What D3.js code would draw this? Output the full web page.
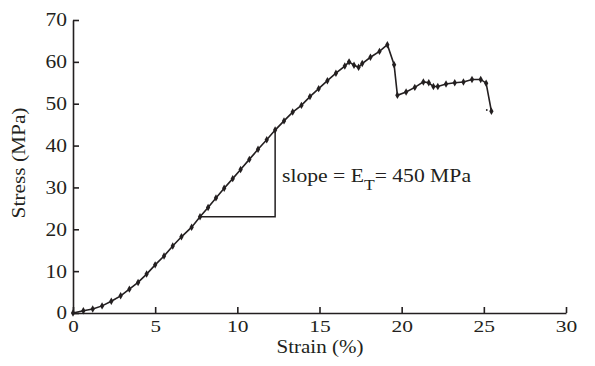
<!DOCTYPE html>
<html><head><meta charset="utf-8">
<script src="https://cdn.jsdelivr.net/npm/d3@7"></script>
<style>body{margin:0;background:#fff}svg{display:block}</style>
</head><body><svg id="c" width="595" height="366"></svg>
<script>
const strain = [0,0.63,1.2,1.77,2.33,2.9,3.43,3.96,4.48,5.0,5.54,6.07,6.6,7.22,7.73,8.22,8.7,9.2,9.72,10.2,10.73,11.26,11.79,12.3,12.84,13.37,13.9,14.42,14.95,15.48,16.0,16.54,16.8,17.1,17.38,17.6,18.1,18.65,19.13,19.54,19.74,20.27,20.8,21.32,21.65,21.93,22.2,22.7,23.23,23.76,24.28,24.81,25.14,25.46];
const stress = [0,0.55,0.95,1.7,2.8,4.1,5.7,7.3,9.3,11.5,13.6,16.0,18.2,20.5,23.0,25.2,27.5,29.8,32.1,34.3,36.7,39.1,41.4,43.7,45.9,48,49.6,51.7,53.6,55.5,57.3,59.0,60.0,59.2,58.7,59.6,61.1,62.5,64.1,59.3,52.0,52.8,53.9,55.2,55.0,54.1,54.1,54.7,55.0,55.2,55.8,55.8,54.9,48.2];
const strayPoint = [25.18, 48.5];
const xTicks = [0,5,10,15,20,25,30];
const yTicks = [0,10,20,30,40,50,60,70];
const slopeStart = [7.73, 23.0];
const slopeEnd = [12.3, 43.7];
const xTitle = "Strain (%)";
const yTitle = "Stress (MPa)";
const slopeParts = ["slope = E", "T", "= 450 MPa"];

const ink = "#231f20";
const FONT = "Liberation Serif";
const svg = d3.select("#c");
const x = d3.scaleLinear().domain([0,30]).range([73,566]);
const y = d3.scaleLinear().domain([0,70]).range([313,20]);

const gx = svg.append("g").attr("transform","translate(0,313)")
  .call(d3.axisBottom(x).tickValues(xTicks).tickSizeInner(-6).tickSizeOuter(0).tickPadding(7));
const gy = svg.append("g").attr("transform","translate(73,0)")
  .call(d3.axisLeft(y).tickValues(yTicks).tickSizeInner(-6).tickSizeOuter(0).tickPadding(6));
gx.attr("font-family",FONT).attr("font-size",17.5);
gy.attr("font-family",FONT).attr("font-size",18.5);
[gx,gy].forEach(g=>{
  g.selectAll("path,line").attr("stroke",ink).attr("stroke-width",1.6);
  g.selectAll("text").attr("fill",ink)
    .attr("textLength",d=>String(d).length===1?10.5:21.5).attr("lengthAdjust","spacingAndGlyphs");
});

svg.append("text").attr("x",320).attr("y",353).attr("text-anchor","middle")
  .attr("font-family",FONT).attr("font-size",18).attr("fill",ink)
  .attr("textLength",87).attr("lengthAdjust","spacingAndGlyphs").text(xTitle);
svg.append("text").attr("transform","translate(25,163) rotate(-90)").attr("text-anchor","middle")
  .attr("font-family",FONT).attr("font-size",18.5).attr("fill",ink)
  .attr("textLength",111).attr("lengthAdjust","spacingAndGlyphs").text(yTitle);

// slope triangle
svg.append("path").attr("fill","none").attr("stroke",ink).attr("stroke-width",1.5)
  .attr("d", d3.line()([[x(slopeStart[0]),y(slopeStart[1])],[x(slopeEnd[0]),y(slopeStart[1])],[x(slopeEnd[0]),y(slopeEnd[1])]]));

const pts = strain.map((s,i)=>[s,stress[i]]);
svg.append("path").attr("fill","none").attr("stroke",ink).attr("stroke-width",1.6)
  .attr("d", d3.line().x(d=>x(d[0])).y(d=>y(d[1]))(pts));
svg.selectAll("path.m").data(pts).enter().append("path").attr("class","m")
  .attr("transform",d=>`translate(${x(d[0])},${y(d[1])})`)
  .attr("d", d3.symbol().type(d3.symbolDiamond).size(16)).attr("fill",ink);
svg.append("circle").attr("cx",x(strayPoint[0])).attr("cy",y(strayPoint[1])).attr("r",0.9).attr("fill",ink);

// annotation
const t = svg.append("text").attr("x",282).attr("y",182).attr("font-family",FONT).attr("font-size",18.5).attr("fill",ink)
  .attr("textLength",189).attr("lengthAdjust","spacingAndGlyphs");
t.append("tspan").text(slopeParts[0]);
t.append("tspan").attr("dy",8).attr("font-size",15).text(slopeParts[1]);
t.append("tspan").attr("dy",-8).text(slopeParts[2]);
</script></body></html>
